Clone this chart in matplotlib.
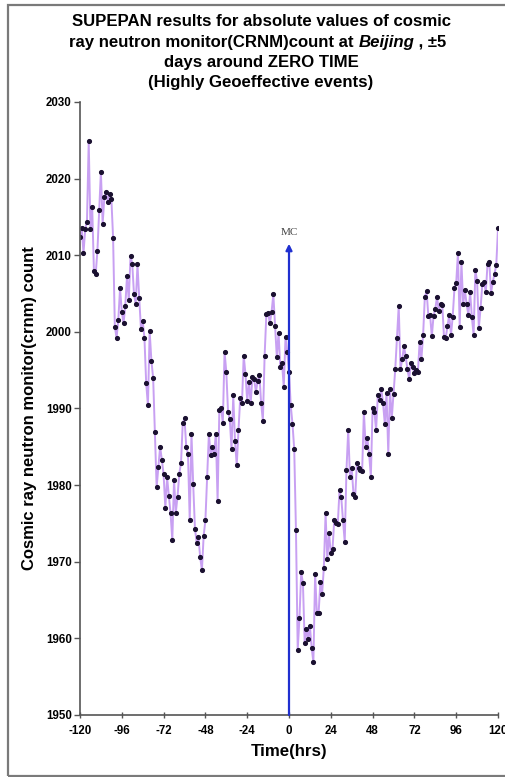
import numpy as np
import matplotlib
matplotlib.use("Agg")
import matplotlib.pyplot as plt
from matplotlib.patches import Rectangle

plt.rcParams['font.family'] = ['Liberation Sans', 'DejaVu Sans']
plt.rcParams['axes.unicode_minus'] = False

# ---------------- data ----------------
title_lines = ["SUPEPAN results for absolute values of cosmic",
               "ray neutron monitor(CRNM)count at ", "Beijing", " , \u00b15",
               "days around ZERO TIME",
               "(Highly Geoeffective events)"]
x_label = "Time(hrs)"
y_label = "Cosmic ray neutron monitor(crnm) count"
x_ticks = [-120, -96, -72, -48, -24, 0, 24, 48, 72, 96, 120]
y_ticks = [1950, 1960, 1970, 1980, 1990, 2000, 2010, 2020, 2030]
event_label = "MC"
event_top = 2011.5

# hourly counts, hours -120 .. -1
pre_event_counts = [
    2012.4, 2013.5, 2010.3, 2013.4, 2014.4, 2024.9, 2013.4, 2016.3, 2007.9, 2007.5,
    2010.6, 2015.9, 2020.9, 2014.1, 2017.6, 2018.2, 2017.0, 2018.0, 2017.4, 2012.3,
    2000.7, 1999.2, 2001.6, 2005.7, 2002.6, 2001.1, 2003.4, 2007.3, 2004.1, 2009.9,
    2008.9, 2004.9, 2003.7, 2008.8, 2004.4, 2000.4, 2001.4, 1999.2, 1993.3, 1990.4,
    2000.1, 1996.2, 1994.0,
    1986.9, 1979.7, 1982.4, 1985.0, 1983.3, 1981.4, 1977.0, 1981.0, 1978.6, 1976.3,
    1972.8, 1980.7, 1976.4, 1978.5, 1981.5, 1982.9, 1988.1, 1988.7, 1985.0, 1984.1,
    1975.4, 1986.7, 1980.1, 1974.3, 1972.5, 1973.2, 1970.6, 1968.9, 1973.4, 1975.4,
    1981.0, 1986.7, 1983.9, 1985.0, 1984.1, 1986.7, 1977.9, 1989.8, 1990.1, 1988.1,
    1997.4, 1994.8, 1989.6, 1988.6, 1984.7, 1991.7, 1985.7, 1982.6,
    1987.2, 1991.4, 1990.7, 1996.9, 1994.5, 1991.0, 1993.4, 1990.7, 1994.1, 1993.8,
    1992.2, 1993.6, 1994.4, 1990.7, 1988.4, 1996.9, 2002.3, 2002.5, 2001.1, 2002.6,
    2004.9, 2000.8, 1996.7, 1999.9, 1995.4, 1995.9, 1992.8, 1999.3, 1997.4,
]
# hourly counts, hours 0 .. 120
post_event_counts = [
    1994.8, 1990.4, 1988.0, 1984.7, 1974.1, 1958.5, 1962.6, 1968.6, 1967.2, 1959.4,
    1961.2, 1959.9, 1961.6, 1958.8, 1956.9, 1968.4, 1963.3, 1963.3, 1967.3, 1965.8,
    1969.2, 1976.3, 1970.3, 1973.7, 1971.1, 1971.7, 1975.5, 1975.0, 1974.9, 1979.3,
    1978.4, 1975.4, 1972.6, 1982.0, 1987.2, 1981.1, 1982.2, 1978.9, 1978.5, 1982.9,
    1982.3, 1982.0, 1981.9, 1989.6, 1985.0, 1986.1, 1984.1, 1981.1, 1990.1, 1989.6,
    1987.2, 1991.7, 1991.1, 1992.5, 1990.7, 1988.0, 1992.0, 1984.1, 1992.5, 1988.7,
    1991.9,
    1995.1, 1999.2, 2003.4, 1995.1, 1996.4, 1998.1, 1996.8, 1995.1, 1993.9, 1995.9,
    1995.4, 1994.6, 1995.0, 1994.7, 1998.7, 1996.4, 1999.6, 2004.6, 2005.3, 2002.1,
    2002.2, 1999.4, 2002.1, 2003.0, 2004.6, 2002.7, 2003.7, 2003.5, 1999.3, 1999.2,
    2000.8, 2002.2, 1999.6, 2002.0, 2005.7, 2006.4, 2010.3, 2000.7, 2009.1, 2003.6,
    2005.4, 2003.6, 2002.2, 2005.2, 2001.9, 1999.6, 2008.1, 2006.6, 2000.5, 2003.1,
    2006.2, 2006.5, 2005.2, 2008.9, 2009.1, 2005.1, 2006.5, 2007.6, 2008.7, 2013.5,
]

counts = np.array(pre_event_counts + post_event_counts)
hours = np.arange(-len(pre_event_counts), len(post_event_counts))
n = min(len(hours), len(counts))
hours, counts = hours[:n], counts[:n]

# ---------------- figure ----------------
W, H = 505, 777
fig = plt.figure(figsize=(W / 100, H / 100), dpi=100)
fig.patch.set_facecolor('white')

# outer frame
fig.patches.append(Rectangle((8 / W, 1 - 776 / H), (W - 8) / W + 0.01, (776 - 5) / H,
                             transform=fig.transFigure, fill=False,
                             edgecolor='#7a7a7a', linewidth=1.6))

ax = fig.add_axes([80 / W, 1 - 715 / H, (498 - 80) / W, (715 - 102) / H])
ax.set_xlim(-120, 120)
ax.set_ylim(1950, 2030)
for s in ['top', 'right']:
    ax.spines[s].set_visible(False)
for s in ['left', 'bottom']:
    ax.spines[s].set_color('#555555')
    ax.spines[s].set_linewidth(1.2)

ax.plot(hours, counts, color='#c8a0f2', linewidth=1.4, zorder=2,
        marker='o', markersize=2.7, markerfacecolor='#1a1030',
        markeredgecolor='#1a1030')

ax.annotate('', xy=(0, event_top), xytext=(0, 1950),
            arrowprops=dict(arrowstyle='-|>', color='#2030d0', lw=1.6,
                            mutation_scale=9, shrinkA=0, shrinkB=0),
            zorder=5)
ax.text(0, event_top + 0.9, event_label, ha='center', va='bottom',
        fontsize=8, family='Liberation Serif', color='#444444')

ax.set_xticks(x_ticks)
ax.set_xticklabels([str(t) for t in x_ticks], fontsize=8.3, fontweight='bold')
ax.set_yticks(y_ticks)
ax.set_yticklabels([str(t) for t in y_ticks], fontsize=8.3, fontweight='bold')
ax.tick_params(axis='x', direction='inout', length=5, width=1, color='#555555', pad=5)
ax.tick_params(axis='y', direction='out', length=4, width=1, color='#555555', pad=2)

ax.set_xlabel(x_label, fontsize=12.2, fontweight='bold', labelpad=5)
ax.set_ylabel(y_label, fontsize=12, fontweight='bold', labelpad=6)

# title
tfs = 12.1
cx = 261 / W
fig.text(cx, 1 - 21 / H, title_lines[0], ha='center', va='center', fontsize=tfs, fontweight='bold')
fig.text(cx, 1 - 62 / H, title_lines[4], ha='center', va='center', fontsize=tfs, fontweight='bold')
fig.text(cx, 1 - 82 / H, title_lines[5], ha='center', va='center', fontsize=tfs, fontweight='bold')

renderer = fig.canvas.get_renderer()
parts = [(title_lines[1], 'normal'), (title_lines[2], 'italic'), (title_lines[3], 'normal')]
tmp = []
total = 0
for s, st in parts:
    t = fig.text(0, 0, s, fontsize=tfs, fontweight='bold', style=st)
    w = t.get_window_extent(renderer).width
    tmp.append((t, w))
    total += w
x0 = 258 - total / 2
y2 = 1 - 42 / H
for t, w in tmp:
    t.set_position((x0 / W, y2))
    t.set_va('center')
    x0 += w

fig.savefig('out.png', dpi=100)
